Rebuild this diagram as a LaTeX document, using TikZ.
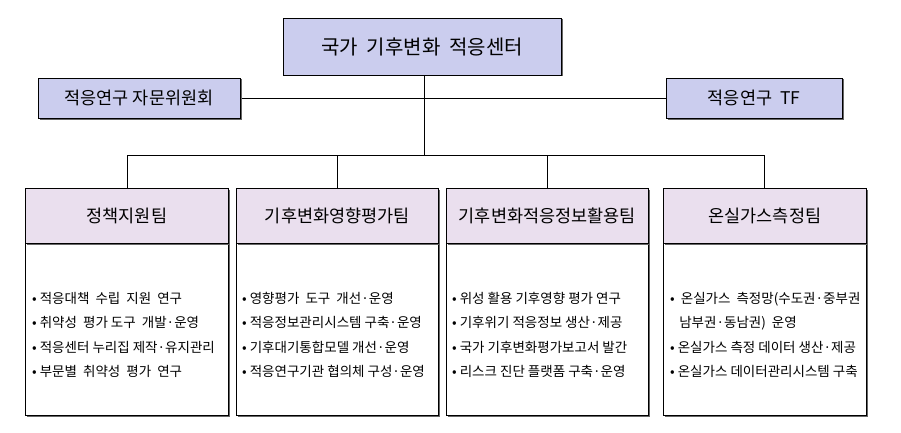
\documentclass[tikz,border=0pt]{standalone}
\usepackage{fontspec}
\setmainfont{Noto Sans CJK KR}
\usetikzlibrary{shadows}
\definecolor{topc}{HTML}{CBCDEE}
\definecolor{teamc}{HTML}{EADFEE}
\tikzset{
  box/.style={draw=black, line width=0.8pt, drop shadow={shadow xshift=1.5pt,shadow yshift=-1.5pt,fill=black!60,opacity=1}},
  ln/.style={line width=0.8pt},
  tt/.style={font=\fontsize{17.5}{20}\selectfont},
  it/.style={font=\fontsize{13.5}{24.5}\selectfont, align=left, anchor=west, inner sep=0pt}
}
\begin{document}
\begin{tikzpicture}[x=1pt,y=-1pt]
\useasboundingbox (0,0) rectangle (901,433);
\draw[ln] (424,75) -- (424,155);
\draw[ln] (240,98) -- (666,98);
\draw[ln] (127,155) -- (764,155);
\foreach \x in {127,337,547,764} \draw[ln] (\x,155) -- (\x,188);
\node[box, fill=topc, minimum width=278, minimum height=57, font=\fontsize{20}{22}\selectfont] (top) at (422,46.5) {국가 \ 기후변화 \ 적응센터};
\node[box, fill=topc, minimum width=202, minimum height=40, tt] (adv) at (139,98) {적응연구 자문위원회};
\node[box, fill=topc, minimum width=176, minimum height=40, tt] (tf) at (754,98) {적응연구 \ TF};
\foreach \n/\x/\w/\t in {a/25/203/정책지원팀, b/236/202/기후변화영향평가팀, c/446/202/기후변화적응정보활용팀, d/663/203/온실가스측정팀}{
  \node[box, fill=white, minimum width=\w, minimum height=172, anchor=north west] (\n b) at (\x,243) {};
  \node[box, fill=teamc, minimum width=\w, minimum height=55, anchor=north west, tt] (\n h) at (\x,188) {\t};
}
\node[it] (ai) at (32,335) {• 적응대책 \ 수립 \ 지원 \ 연구\\• 취약성 \ 평가 도구 \ 개발·운영\\• 적응센터 누리집 제작·유지관리\\• 부문별 \ 취약성 \ 평가 \ 연구};
\node[it] (bi) at (242,335) {• 영향평가 \ 도구 \ 개선·운영\\• 적응정보관리시스템 구축·운영\\• 기후대기통합모델 개선·운영\\• 적응연구기관 협의체 구성·운영};
\node[it] (ci) at (452,335) {• 위성 활용 기후영향 평가 연구\\• 기후위기 적응정보 생산·제공\\• 국가 기후변화평가보고서 발간\\• 리스크 진단 플랫폼 구축·운영};
\node[it] (di) at (670,335) {• \ 온실가스 \ 측정망(수도권·중부권\\\ \ \ 남부권·동남권) \ 운영\\• 온실가스 측정 데이터 생산·제공\\• 온실가스 데이터관리시스템 구축};
\end{tikzpicture}
\end{document}
